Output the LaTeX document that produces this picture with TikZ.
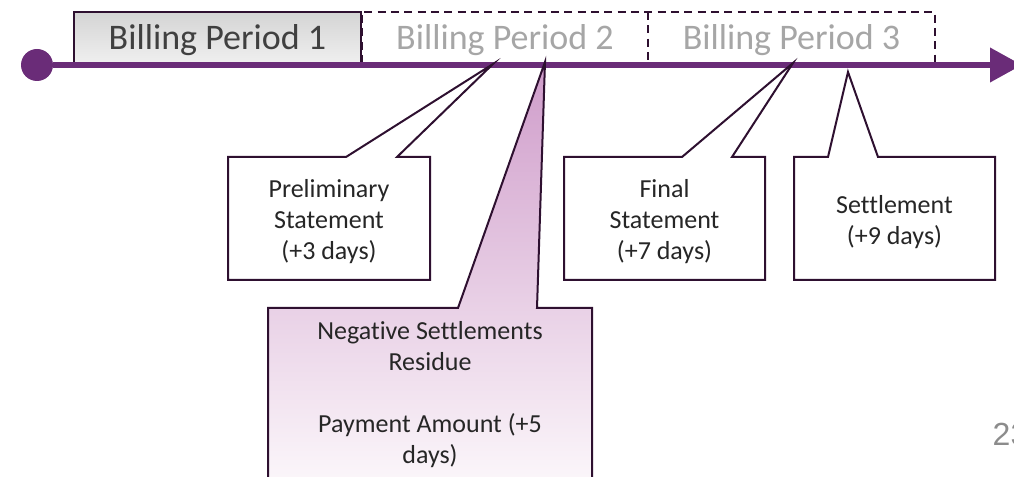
\documentclass[tikz,border=0pt]{standalone}
\usepackage{fontspec}
\setmainfont{Carlito}[Ligatures=NoCommon]
\newfontfamily\pagefont{Liberation Sans}
\usepackage{xcolor}
\usepackage{tikz}
\usetikzlibrary{calc, arrows.meta}
\definecolor{timeline}{HTML}{6A2C78}
\definecolor{outline}{HTML}{2E1030}
\definecolor{residuetop}{HTML}{CF9CCA}
\definecolor{residuebot}{HTML}{FCF8FB}

\begin{document}
\begin{tikzpicture}[x=0.75pt, y=-0.75pt]
			\tikzstyle{period}=[draw=outline, line width=1.5pt]
			\tikzstyle{future}=[period, dash pattern=on 6pt off 4pt]
			\tikzstyle{bigtext}=[font=\fontsize{27}{32}\selectfont, anchor=base]
			\tikzstyle{callout}=[draw=outline, line width=1.5pt, fill=white, line join=miter, miter limit=20]
			\tikzstyle{note}=[font=\fontsize{19.5}{23.25}\selectfont, text=black!85, align=center]
			\def\barT{12};
			\def\barB{63};
			\def\boxT{157};
			\def\boxB{280};

			\useasboundingbox (0,0) rectangle (1014,477);

			\begin{scope}
				\draw [future] (362,\barB) -- (362,\barT) -- (935,\barT) -- (935,\barB);
				\draw [future] (648,\barT) -- (648,\barB);
				\draw [period, top color=black!17, bottom color=black!6] (74,\barT) rectangle (361,\barB);
				\node [bigtext, text=black!75] (period1) at (217.5,50) {Billing Period 1};
				\node [bigtext, text=black!35] (period2) at (505,50) {Billing Period 2};
				\node [bigtext, text=black!35] (period3) at (791.5,50) {Billing Period 3};
			\end{scope}

			\begin{scope}
				\node [circle, fill=timeline, minimum size=24pt, inner sep=0pt] (start) at (37,65) {};
				\coordinate (end) at (1022,65);
				\draw [timeline, line width=4.5pt, -{Triangle[length=24pt, width=25pt]}] (start) -- (end);
			\end{scope}

			\begin{scope}
				\coordinate (prelimTip) at (493,64);
				\draw [callout] (228,\boxT) -- (346,\boxT) -- (prelimTip) -- (397,\boxT) -- (430,\boxT) -- (430,\boxB) -- (228,\boxB) -- cycle;
				\node [note] (prelim) at (329,222) {Preliminary\\Statement\\(+3 days)};
			\end{scope}

			\begin{scope}
				\coordinate (residueTip) at (545,62);
				\draw [callout, top color=residuetop, bottom color=residuebot] (268,308) -- (458,308) -- (residueTip) -- (537,308) -- (592,308) -- (592,490) -- (268,490) -- cycle;
				\node [note] (residue) at (430,395) {Negative Settlements\\Residue\\[23.25pt]Payment Amount (+5\\days)};
			\end{scope}

			\begin{scope}
				\coordinate (finalTip) at (793,63);
				\draw [callout] (564,\boxT) -- (682,\boxT) -- (finalTip) -- (732,\boxT) -- (765,\boxT) -- (765,\boxB) -- (564,\boxB) -- cycle;
				\node [note] (final) at (664.5,222) {Final\\Statement\\(+7 days)};
			\end{scope}

			\begin{scope}
				\coordinate (settleTip) at (848,72);
				\draw [callout] (794,\boxT) -- (828,\boxT) -- (settleTip) -- (878,\boxT) -- (995,\boxT) -- (995,\boxB) -- (794,\boxB) -- cycle;
				\node [note] (settle) at (894.5,222) {Settlement\\(+9 days)};
			\end{scope}

			\begin{scope}
				\node [font=\pagefont\fontsize{24}{28}\selectfont, text=black!45, anchor=base west] (page) at (988,445) {23};
			\end{scope}
		\end{tikzpicture}
\end{document}
